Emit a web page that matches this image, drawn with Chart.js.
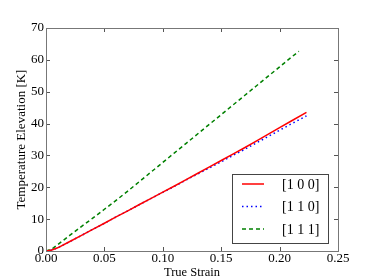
<!DOCTYPE html>
<html>
<head>
<meta charset="utf-8">
<script src="https://cdn.jsdelivr.net/npm/chart.js@4"></script>
<style>
  html, body { margin: 0; padding: 0; background: #fff; }
  #wrap { width: 374px; height: 280px; position: relative; }
</style>
</head>
<body>
<div id="wrap"><canvas id="myChart"></canvas></div>
<script>
// values
const strain100 = [0, 0.005, 0.01, 0.02, 0.03, 0.04, 0.05, 0.06, 0.07, 0.08, 0.09, 0.10, 0.11, 0.12, 0.13, 0.14, 0.15, 0.16, 0.17, 0.18, 0.19, 0.20, 0.21, 0.223];
const temp100   = [0, 0.3, 1.0, 2.9, 4.8, 6.8, 8.7, 10.7, 12.6, 14.6, 16.5, 18.5, 20.4, 22.4, 24.4, 26.4, 28.4, 30.4, 32.4, 34.5, 36.6, 38.7, 40.8, 43.5];
const strain110 = [0, 0.005, 0.01, 0.02, 0.03, 0.04, 0.05, 0.06, 0.07, 0.08, 0.09, 0.10, 0.11, 0.12, 0.13, 0.14, 0.15, 0.16, 0.17, 0.18, 0.19, 0.20, 0.21, 0.223];
const temp110   = [0, 0.3, 1.0, 2.9, 4.8, 6.8, 8.7, 10.7, 12.6, 14.6, 16.5, 18.4, 20.3, 22.3, 24.2, 26.1, 28.0, 30.0, 31.9, 33.9, 35.9, 37.9, 39.9, 42.4];
const strain111 = [0, 0.005, 0.01, 0.02, 0.03, 0.04, 0.05, 0.06, 0.07, 0.08, 0.09, 0.10, 0.11, 0.12, 0.13, 0.14, 0.15, 0.16, 0.17, 0.18, 0.19, 0.20, 0.21, 0.2165];
const temp111   = [0, 0.6, 2.0, 4.8, 7.6, 10.3, 13.1, 15.9, 18.8, 21.8, 24.8, 27.8, 30.8, 33.8, 36.8, 39.8, 42.8, 45.8, 48.8, 51.8, 54.8, 57.8, 60.8, 62.7];
const seriesNames = ['[1 0 0]', '[1 1 0]', '[1 1 1]'];
const xTicks = [0, 0.05, 0.10, 0.15, 0.20, 0.25];
const yTicks = [0, 10, 20, 30, 40, 50, 60, 70];

function pts(xs, ys) {
    return xs.map((x, i) => ({ x: x, y: ys[i] }));
}

const font = 'Liberation Serif';

// inward ticks on all four sides, like matplotlib
const innerTicks = {
    id: 'innerTicks',
    afterDraw(chart) {
        const c = chart.ctx, a = chart.chartArea;
        const xs = chart.scales.x, ys = chart.scales.y;
        c.save();
        c.strokeStyle = '#555';
        c.lineWidth = 1;
        c.beginPath();
        xTicks.forEach(v => {
            const px = Math.round(xs.getPixelForValue(v)) + 0.5;
            c.moveTo(px, a.bottom); c.lineTo(px, a.bottom - 4);
            c.moveTo(px, a.top); c.lineTo(px, a.top + 4);
        });
        yTicks.forEach(v => {
            const py = Math.round(ys.getPixelForValue(v)) + 0.5;
            c.moveTo(a.left, py); c.lineTo(a.left + 4, py);
            c.moveTo(a.right, py); c.lineTo(a.right - 4, py);
        });
        c.stroke();
        c.strokeStyle = '#777';
        c.strokeRect(Math.round(a.left) + 0.5, Math.round(a.top) + 0.5,
            Math.round(a.right - a.left), Math.round(a.bottom - a.top));
        c.restore();
    }
};

// legend box in the lower right corner
const boxLegend = {
    id: 'boxLegend',
    afterDraw(chart) {
        const c = chart.ctx, a = chart.chartArea;
        const bx = 232.5, by = 174.5, bw = 96, bh = 69;
        c.save();
        c.fillStyle = '#fff';
        c.fillRect(bx, by, bw, bh);
        c.strokeStyle = '#444';
        c.lineWidth = 1;
        c.strokeRect(bx, by, bw, bh);
        c.font = '14px "' + font + '"';
        c.textBaseline = 'middle';
        chart.data.datasets.forEach((ds, i) => {
            const y = 184 + i * 22.5;
            c.strokeStyle = ds.borderColor;
            c.lineWidth = ds.borderWidth;
            c.setLineDash(ds.borderDash || []);
            c.beginPath();
            c.moveTo(242, y); c.lineTo(264, y);
            c.stroke();
            c.setLineDash([]);
            c.fillStyle = '#000';
            c.fillText(ds.label, 282, y + 1);
        });
        c.restore();
    }
};

const ctx = document.getElementById('myChart');
new Chart(ctx, {
    type: 'line',
    data: {
        datasets: [{
            label: seriesNames[0],
            data: pts(strain100, temp100),
            borderColor: '#ff0000',
            borderWidth: 1.5,
            pointRadius: 0,
            tension: 0
        }, {
            label: seriesNames[1],
            data: pts(strain110, temp110),
            borderColor: '#0000ff',
            borderWidth: 1.5,
            borderDash: [1.5, 3],
            pointRadius: 0,
            tension: 0
        }, {
            label: seriesNames[2],
            data: pts(strain111, temp111),
            borderColor: '#008000',
            borderWidth: 1.5,
            borderDash: [4, 3],
            pointRadius: 0,
            tension: 0
        }]
    },
    options: {
        responsive: true,
        maintainAspectRatio: false,
        animation: false,
        layout: { padding: { top: 28, right: 36, left: 0, bottom: 0 } },
        plugins: { legend: { display: false }, tooltip: { enabled: false } },
        scales: {
            x: {
                type: 'linear',
                min: 0, max: 0.25,
                afterBuildTicks: s => { s.ticks = xTicks.map(v => ({ value: v })); },
                afterFit: s => { s.height = 29; },
                grid: { display: false, drawTicks: false },
                border: { display: false },
                ticks: {
                    padding: 0,
                    color: '#000',
                    font: { family: font, size: 13 },
                    maxRotation: 0,
                    callback: v => v.toFixed(2)
                },
                title: {
                    display: true, text: 'True Strain', color: '#000',
                    font: { family: font, size: 12.5 }, padding: { top: 0, bottom: 0 }
                }
            },
            y: {
                min: 0, max: 70,
                afterBuildTicks: s => { s.ticks = yTicks.map(v => ({ value: v })); },
                afterFit: s => { s.width = 46; },
                grid: { display: false, drawTicks: false },
                border: { display: false },
                ticks: {
                    padding: 2,
                    color: '#000',
                    font: { family: font, size: 13 }
                },
                title: {
                    display: true, text: 'Temperature Elevation [K]', color: '#000',
                    font: { family: font, size: 13 }, padding: { top: 14, bottom: 0 }
                }
            }
        }
    },
    plugins: [innerTicks, boxLegend]
});
</script>
</body>
</html>
